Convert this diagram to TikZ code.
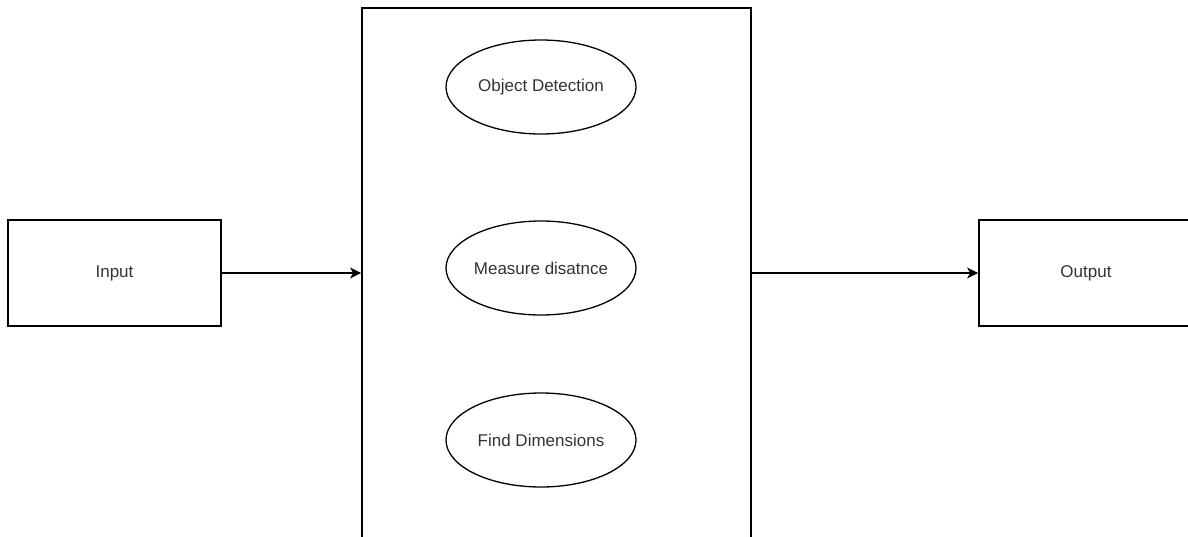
\documentclass[tikz,border=0pt]{standalone}
\usepackage{fontspec}
\setmainfont{Liberation Sans}
\usetikzlibrary{arrows.meta,shapes.geometric}
\definecolor{txt}{HTML}{333333}
\tikzset{
  box/.style={draw=black, line width=1.8pt, rectangle, inner sep=0pt, font=\fontsize{17}{20}\selectfont, text=txt},
  oval/.style={draw=black, line width=1.3pt, ellipse, minimum width=190pt, minimum height=94pt, inner sep=0pt, font=\fontsize{17}{20}\selectfont, text=txt},
  conn/.style={draw=black, line width=1.1pt, -{Stealth[length=11pt,width=11pt,inset=3pt]}}
}
\begin{document}
\begin{tikzpicture}[x=1pt,y=-1pt]
\useasboundingbox (0,0) rectangle (1188,536);
\clip (0,0) rectangle (1188,536);
\fill[white] (0,0) rectangle (1188,536);
\node[box, minimum width=389pt, minimum height=560pt] (proc) at (556.5,288) {};
\node[box, minimum width=213pt, minimum height=106pt] (input) at (114.5,273) {Input};
\node[box, minimum width=214pt, minimum height=106pt] (output) at (1086,273) {Output};
\node[oval] (od) at (541,87) {Object Detection};
\node[oval] (md) at (541,268) {Measure disatnce};
\node[oval] (fd) at (541,440) {Find Dimensions};
\draw[conn] (input.east) -- (input.east -| proc.west);
\draw[conn] (output.west -| proc.east) -- (output.west);
\end{tikzpicture}
\end{document}
